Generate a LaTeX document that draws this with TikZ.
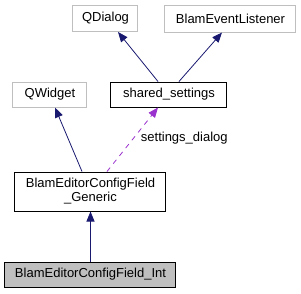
\documentclass[tikz,border=0pt]{standalone}
\usepackage{fontspec}
\setmainfont{Liberation Sans}
\usetikzlibrary{arrows.meta}
\definecolor{navy}{HTML}{191970}
\definecolor{orchid}{HTML}{9A32CD}
\definecolor{lgray}{HTML}{BFBFBF}
\begin{document}
\begin{tikzpicture}[x=1pt,y=-1pt,
  lbl/.style={font=\fontsize{13}{15}\selectfont},
  box/.style={draw=black,fill=white,line width=1pt,inner sep=0pt,lbl,align=center},
  extbox/.style={box,draw=lgray},
  inh/.style={draw=navy,line width=0.8pt,-{Triangle[length=10pt,width=8pt,fill=navy]}},
  use/.style={draw=orchid,line width=0.8pt,dash pattern=on 5pt off 5pt,-{Triangle[length=10pt,width=8pt,fill=orchid]}}]
\useasboundingbox (0,0) rectangle (301,293);
\node[extbox,minimum width=65pt,minimum height=26pt] (qd) at (105.5,18.5) {QDialog};
\node[extbox,minimum width=131pt,minimum height=27pt] (bel) at (230.5,18.5) {BlamEventListener};
\node[extbox,minimum width=74pt,minimum height=25pt] (qw) at (50,94.5) {QWidget};
\node[box,minimum width=116pt,minimum height=25pt] (ss) at (169,94.5) {shared\_settings};
\node[box,minimum width=151pt,minimum height=39pt] (gen) at (90.5,191.5) {BlamEditorConfigField\\[-1pt]\_Generic};
\node[box,fill=lgray,minimum width=171pt,minimum height=25pt] (int) at (90.5,274.5) {BlamEditorConfigField\_Int};
\draw[inh] (ss.north -| 158,0) -- (qd.south -| 118,0);
\draw[inh] (ss.north -| 179,0) -- (bel.south -| 222,0);
\draw[inh] (gen.north -| 82,0) -- (qw.south -| 55,0);
\draw[use] (gen.north -| 107,0) -- node[lbl,anchor=west,pos=0.52,text=black,xshift=7pt,inner sep=0pt] {settings\_dialog} (ss.south -| 158,0);
\draw[inh] (int) -- (gen);
\end{tikzpicture}
\end{document}
